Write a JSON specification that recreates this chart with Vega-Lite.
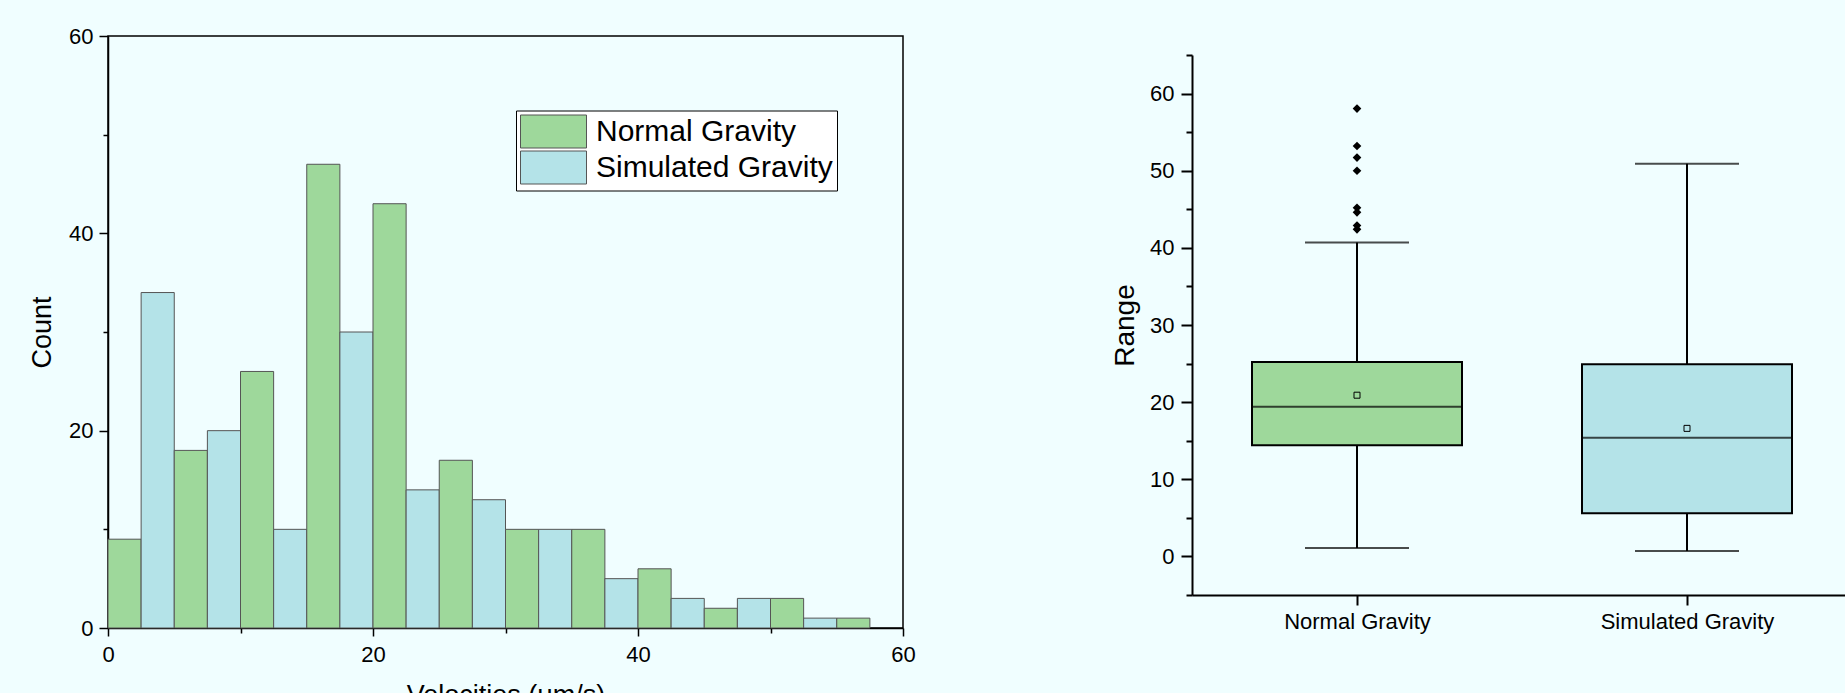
{
  "$schema": "https://vega.github.io/schema/vega-lite/v6.json",
  "background": "#F0FEFF",
  "padding": {"left": 27, "top": 24, "right": 0, "bottom": 0},
  "config": {
    "font": "Liberation Sans",
    "axis": {"domainColor": "#000000", "tickColor": "#000000", "labelColor": "#000000", "titleColor": "#000000", "titleFontWeight": "normal", "grid": false},
    "view": {"stroke": null}
  },
  "spacing": 195,
  "resolve": {"legend": {"color": "independent"}, "scale": {"color": "independent"}},
  "hconcat": [
    {
      "width": 795,
      "height": 592,
      "view": {"stroke": "#000000", "strokeWidth": 1.5},
      "data": {"values": [
        {"start": 0, "end": 2.5, "count": 9, "group": "Normal Gravity"},
        {"start": 2.5, "end": 5, "count": 34, "group": "Simulated Gravity"},
        {"start": 5, "end": 7.5, "count": 18, "group": "Normal Gravity"},
        {"start": 7.5, "end": 10, "count": 20, "group": "Simulated Gravity"},
        {"start": 10, "end": 12.5, "count": 26, "group": "Normal Gravity"},
        {"start": 12.5, "end": 15, "count": 10, "group": "Simulated Gravity"},
        {"start": 15, "end": 17.5, "count": 47, "group": "Normal Gravity"},
        {"start": 17.5, "end": 20, "count": 30, "group": "Simulated Gravity"},
        {"start": 20, "end": 22.5, "count": 43, "group": "Normal Gravity"},
        {"start": 22.5, "end": 25, "count": 14, "group": "Simulated Gravity"},
        {"start": 25, "end": 27.5, "count": 17, "group": "Normal Gravity"},
        {"start": 27.5, "end": 30, "count": 13, "group": "Simulated Gravity"},
        {"start": 30, "end": 32.5, "count": 10, "group": "Normal Gravity"},
        {"start": 32.5, "end": 35, "count": 10, "group": "Simulated Gravity"},
        {"start": 35, "end": 37.5, "count": 10, "group": "Normal Gravity"},
        {"start": 37.5, "end": 40, "count": 5, "group": "Simulated Gravity"},
        {"start": 40, "end": 42.5, "count": 6, "group": "Normal Gravity"},
        {"start": 42.5, "end": 45, "count": 3, "group": "Simulated Gravity"},
        {"start": 45, "end": 47.5, "count": 2, "group": "Normal Gravity"},
        {"start": 47.5, "end": 50, "count": 3, "group": "Simulated Gravity"},
        {"start": 50, "end": 52.5, "count": 3, "group": "Normal Gravity"},
        {"start": 52.5, "end": 55, "count": 1, "group": "Simulated Gravity"},
        {"start": 55, "end": 57.5, "count": 1, "group": "Normal Gravity"}
      ]},
      "mark": {"type": "bar", "stroke": "#555555", "strokeWidth": 1},
      "encoding": {
        "x": {
          "field": "start", "type": "quantitative",
          "scale": {"domain": [0, 60], "nice": false, "zero": false},
          "axis": {
            "values": [0, 10, 20, 30, 40, 50, 60],
            "labelExpr": "datum.value % 20 === 0 ? datum.label : ''",
            "labelFlush": false,
            "tickSize": {"condition": {"test": "datum.value % 20 === 0", "value": 8}, "value": 5},
            "tickWidth": 1.5, "domainWidth": 1.5,
            "labelFontSize": 22, "labelPadding": 8,
            "title": "Velocities (μm/s)", "titleFontSize": 27, "titlePadding": 17
          }
        },
        "x2": {"field": "end"},
        "y": {
          "field": "count", "type": "quantitative",
          "scale": {"domain": [0, 60], "nice": false},
          "axis": {
            "values": [0, 10, 20, 30, 40, 50, 60],
            "labelExpr": "datum.value % 20 === 0 ? datum.label : ''",
            "labelFlush": false,
            "tickSize": {"condition": {"test": "datum.value % 20 === 0", "value": 9}, "value": 5},
            "tickWidth": 1.5, "domainWidth": 1.5,
            "labelFontSize": 22, "labelPadding": 6,
            "title": "Count", "titleFontSize": 27, "titlePadding": 12
          }
        },
        "y2": {"datum": 0},
        "color": {
          "field": "group", "type": "nominal",
          "scale": {"domain": ["Normal Gravity", "Simulated Gravity"], "range": ["#9ED89B", "#B4E3E8"]},
          "legend": {
            "title": null, "orient": "none", "legendX": 408, "legendY": 74.5,
            "fillColor": "#FFFFFF", "strokeColor": "#000000", "padding": 4,
            "labelFontSize": 30, "labelColor": "#000000", "labelOffset": 42, "labelLimit": 0,
            "symbolType": "M-1,-1H3V1H-1Z", "symbolSize": 1089,
            "symbolStrokeColor": "#555555", "symbolStrokeWidth": 1, "symbolOpacity": 1,
            "rowPadding": -2
          }
        }
      }
    },
    {
      "width": 660,
      "height": 559,
      "layer": [
        {
          "data": {"name": "box", "values": [
            {"group": "Normal Gravity", "lower": 1.1, "q1": 14.4, "median": 19.4, "q3": 25.2, "upper": 40.7, "mean": 20.9},
            {"group": "Simulated Gravity", "lower": 0.7, "q1": 5.6, "median": 15.4, "q3": 24.9, "upper": 50.9, "mean": 16.6}
          ]},
          "layer": [
            {
              "mark": {"type": "rule", "color": "#000000", "strokeWidth": 2},
              "encoding": {
                "x": {"field": "group", "type": "nominal"},
                "y": {"field": "lower", "type": "quantitative"},
                "y2": {"field": "upper"}
              }
            },
            {
              "mark": {"type": "tick", "color": "#000000", "size": 104, "thickness": 2},
              "encoding": {
                "x": {"field": "group", "type": "nominal"},
                "y": {"field": "lower", "type": "quantitative"}
              }
            },
            {
              "mark": {"type": "tick", "color": "#000000", "size": 104, "thickness": 2},
              "encoding": {
                "x": {"field": "group", "type": "nominal"},
                "y": {"field": "upper", "type": "quantitative"}
              }
            },
            {
              "mark": {"type": "bar", "size": 210, "stroke": "#000000", "strokeWidth": 2},
              "encoding": {
                "x": {"field": "group", "type": "nominal"},
                "y": {"field": "q1", "type": "quantitative"},
                "y2": {"field": "q3"},
                "color": {
                  "field": "group", "type": "nominal",
                  "scale": {"domain": ["Normal Gravity", "Simulated Gravity"], "range": ["#9ED89B", "#B4E3E8"]},
                  "legend": null
                }
              }
            },
            {
              "mark": {"type": "tick", "color": "#000000", "size": 210, "thickness": 2},
              "encoding": {
                "x": {"field": "group", "type": "nominal"},
                "y": {"field": "median", "type": "quantitative"}
              }
            },
            {
              "mark": {"type": "point", "shape": "square", "filled": false, "color": "#000000", "strokeWidth": 1, "size": 36, "opacity": 1},
              "encoding": {
                "x": {"field": "group", "type": "nominal"},
                "y": {"field": "mean", "type": "quantitative"}
              }
            }
          ]
        },
        {
          "data": {"name": "outliers", "values": [
            {"group": "Normal Gravity", "value": 58.05},
            {"group": "Normal Gravity", "value": 53.2},
            {"group": "Normal Gravity", "value": 51.7},
            {"group": "Normal Gravity", "value": 50.0},
            {"group": "Normal Gravity", "value": 45.2},
            {"group": "Normal Gravity", "value": 44.6},
            {"group": "Normal Gravity", "value": 42.9},
            {"group": "Normal Gravity", "value": 42.4}
          ]},
          "mark": {"type": "point", "shape": "diamond", "filled": true, "color": "#000000", "size": 75, "opacity": 1},
          "encoding": {
            "x": {"field": "group", "type": "nominal"},
            "y": {"field": "value", "type": "quantitative"}
          }
        }
      ],
      "encoding": {
        "x": {
          "field": "group", "type": "nominal",
          "scale": {"type": "point", "padding": 0.5, "domain": ["Normal Gravity", "Simulated Gravity"]},
          "axis": {"title": null, "labelAngle": 0, "labelFontSize": 22, "tickSize": 10, "tickWidth": 2, "domainWidth": 2, "labelPadding": 6}
        },
        "y": {
          "type": "quantitative",
          "scale": {"domain": [-5, 65], "nice": false, "zero": false, "range": [559, 19]},
          "axis": {
            "values": [-5, 0, 5, 10, 15, 20, 25, 30, 35, 40, 45, 50, 55, 60, 65],
            "labelExpr": "datum.value % 10 === 0 && datum.value >= 0 && datum.value <= 60 ? datum.label : ''",
            "tickSize": {"condition": {"test": "datum.value % 10 === 0 && datum.value >= 0 && datum.value <= 60", "value": 11}, "value": 6},
            "tickWidth": 2, "domainWidth": 2,
            "labelFontSize": 22, "labelPadding": 7,
            "title": "Range", "titleFontSize": 28, "titlePadding": 10
          }
        }
      }
    }
  ]
}
